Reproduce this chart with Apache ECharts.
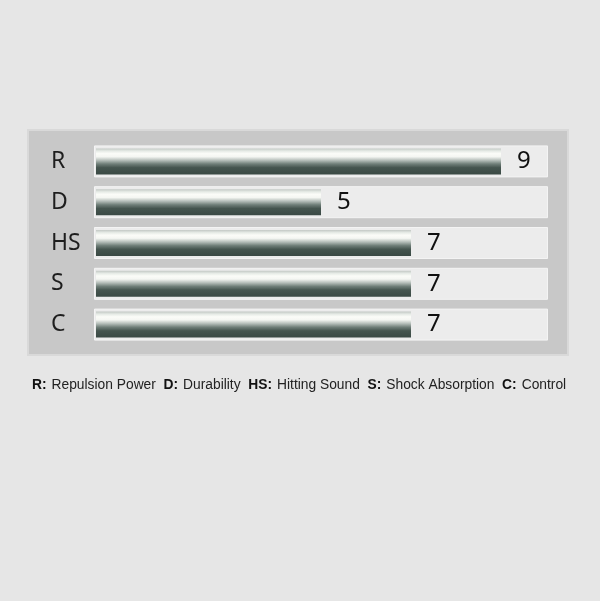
<!DOCTYPE html>
<html>
<head>
<meta charset="utf-8">
<style>
  html, body { margin: 0; padding: 0; background: #e6e6e6; }
  #main { width: 600px; height: 601px; }
</style>
<script src="https://cdn.jsdelivr.net/npm/echarts@6/dist/echarts.min.js"></script>
</head>
<body>
<div id="main"></div>
<script>
// ratings, top to bottom
var categories = ['R', 'D', 'HS', 'S', 'C'];
var scores = [9, 5, 7, 7, 7];
var scaleMax = 10;
var fullNames = ['Repulsion Power', 'Durability', 'Hitting Sound', 'Shock Absorption', 'Control'];

var tracks = categories.map(function () { return scaleMax; });

// legend line below the panel
var legendText = categories.map(function (c, i) {
  return '{b|' + c + ':} {n|' + fullNames[i] + '}';
}).join('{n|  }');

var chart = echarts.init(document.getElementById('main'));

var metal = new echarts.graphic.LinearGradient(0, 0, 0, 1, [
  {offset: 0, color: '#c2c8c4'},
  {offset: 0.1, color: '#e6ebe6'},
  {offset: 0.2, color: '#fbfcf8'},
  {offset: 0.32, color: '#f4f6f2'},
  {offset: 0.46, color: '#b5beb9'},
  {offset: 0.6, color: '#6f7e78'},
  {offset: 0.74, color: '#45554f'},
  {offset: 1, color: '#3a4944'}
]);

var option = {
  backgroundColor: '#e6e6e6',
  animation: false,
  graphic: [
    {
      type: 'rect',
      z: -10,
      shape: {x: 28, y: 130, width: 540, height: 225},
      style: {fill: '#c8c8c8', stroke: '#d9d9d9', lineWidth: 2}
    }
  ],
  title: {
    left: 27,
    top: 371,
    text: legendText,
    textStyle: {
      fontWeight: 'normal',
      rich: {
        b: {fontFamily: 'Liberation Sans', fontWeight: 'bold', fontSize: 13.8, color: '#111'},
        n: {fontFamily: 'Liberation Sans', fontWeight: 'normal', fontSize: 13.8, color: '#222'}
      }
    }
  },
  grid: [
    {left: 94, right: 52, top: 141, height: 204},
    {left: 96, right: 54, top: 141, height: 204}
  ],
  xAxis: [
    {gridIndex: 0, type: 'value', min: 0, max: scaleMax, show: false},
    {gridIndex: 1, type: 'value', min: 0, max: scaleMax, show: false}
  ],
  yAxis: [
    {
      gridIndex: 0, type: 'category', data: categories, inverse: true,
      axisLine: {show: false}, axisTick: {show: false}, axisLabel: {show: false}
    },
    {
      gridIndex: 1, type: 'category', data: categories, inverse: true,
      axisLine: {show: false}, axisTick: {show: false},
      axisLabel: {
        align: 'left', margin: 45,
        fontFamily: 'Noto Sans', fontSize: 23, color: '#1e1e1e'
      }
    }
  ],
  series: [
    {
      type: 'bar',
      xAxisIndex: 0, yAxisIndex: 0,
      data: tracks,
      barWidth: 32,
      silent: true,
      itemStyle: {color: '#ececec', borderColor: '#f4f4f4', borderWidth: 1}
    },
    {
      type: 'bar',
      xAxisIndex: 1, yAxisIndex: 1,
      data: scores,
      barWidth: 26,
      itemStyle: {color: metal},
      label: {
        show: true, position: 'right', distance: 16,
        fontFamily: 'Noto Sans', fontSize: 24, color: '#111'
      }
    }
  ]
};

chart.setOption(option);
</script>
</body>
</html>
